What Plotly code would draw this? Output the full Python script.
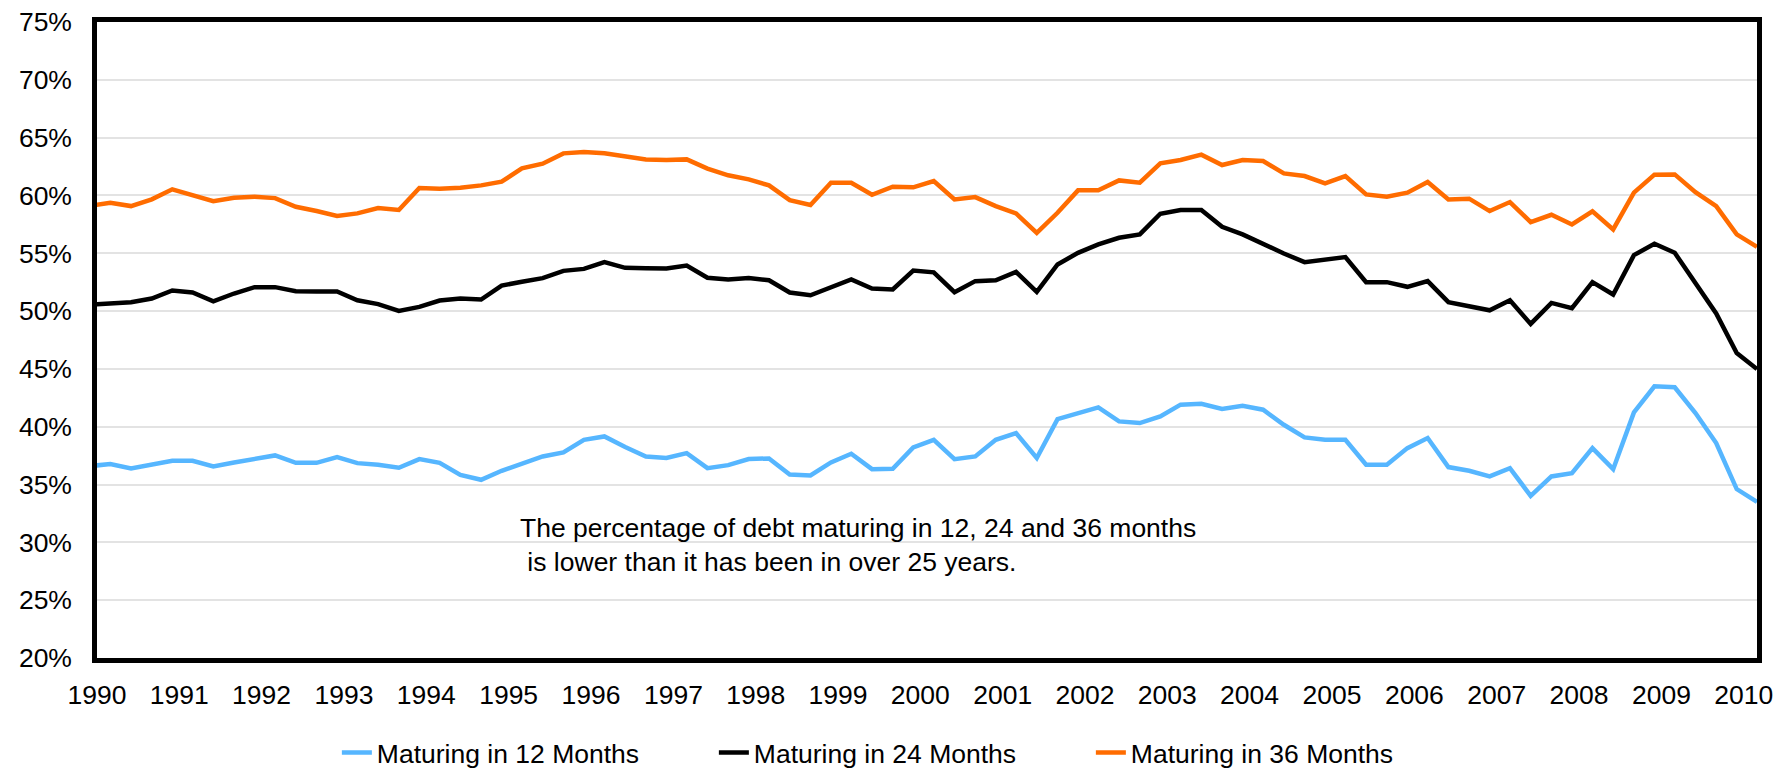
import pandas as pd
import plotly.graph_objects as go

# Quarterly observations (first point is the one just before the axis start)
quarter_start = "1989-12-01"
n_quarters = 82

maturing_12 = [36.6, 36.77, 36.39, 36.71, 37.06, 37.06, 36.56, 36.91, 37.17, 37.52,
               36.88, 36.88, 37.37, 36.85, 36.71, 36.45, 37.20, 36.88, 35.84, 35.41,
               36.19, 36.85, 37.43, 37.78, 38.87, 39.16, 38.24, 37.43, 37.29, 37.72,
               36.42, 36.68, 37.20, 37.26, 35.87, 35.79, 36.91, 37.66, 36.33, 36.36,
               38.21, 38.87, 37.20, 37.43, 38.87, 39.45, 37.29, 40.66, 41.18, 41.67,
               40.46, 40.32, 40.89, 41.91, 41.99, 41.53, 41.82, 41.47, 40.17, 39.08,
               38.87, 38.87, 36.71, 36.71, 38.15, 39.02, 36.51, 36.19, 35.70, 36.42,
               34.02, 35.70, 35.99, 38.15, 36.33, 41.24, 43.49, 43.41, 41.18, 38.59,
               34.61, 33.5]

maturing_24 = [50.55, 50.65, 50.77, 51.09, 51.78, 51.61, 50.85, 51.52, 52.07, 52.07,
               51.72, 51.69, 51.69, 50.94, 50.6, 50.02, 50.36, 50.91, 51.09, 51.00,
               52.21, 52.53, 52.85, 53.48, 53.65, 54.23, 53.74, 53.71, 53.68, 53.94,
               52.88, 52.73, 52.85, 52.67, 51.61, 51.37, 52.10, 52.73, 51.95, 51.87,
               53.51, 53.35, 51.63, 52.59, 52.67, 53.39, 51.66, 54.03, 55.04, 55.76,
               56.34, 56.63, 58.42, 58.74, 58.74, 57.29, 56.63, 55.76, 54.98, 54.23,
               54.46, 54.67, 52.50, 52.50, 52.10, 52.59, 50.77, 50.42, 50.07, 50.94,
               48.89, 50.71, 50.25, 52.50, 51.43, 54.84, 55.82, 55.04, 52.44, 49.79,
               46.38, 44.99]

maturing_36 = [59.1, 59.37, 59.08, 59.66, 60.53, 60.06, 59.51, 59.80, 59.89, 59.77,
               59.02, 58.65, 58.22, 58.45, 58.91, 58.74, 60.64, 60.58, 60.67, 60.87,
               61.19, 62.34, 62.75, 63.64, 63.76, 63.64, 63.35, 63.12, 63.07, 63.12,
               62.32, 61.74, 61.39, 60.87, 59.60, 59.17, 61.10, 61.10, 60.06, 60.76,
               60.70, 61.25, 59.66, 59.86, 59.08, 58.45, 56.77, 58.50, 60.44, 60.44,
               61.30, 61.10, 62.78, 63.07, 63.53, 62.63, 63.07, 62.98, 61.91, 61.68,
               61.04, 61.68, 60.09, 59.89, 60.24, 61.16, 59.66, 59.72, 58.65, 59.43,
               57.70, 58.33, 57.49, 58.62, 57.06, 60.24, 61.80, 61.82, 60.29, 59.08,
               56.63, 55.56]

series_names = ["Maturing in 12 Months", "Maturing in 24 Months", "Maturing in 36 Months"]
series_colors = ["#56B6FF", "#000000", "#FF6C00"]

year_ticks = [str(y) for y in range(1990, 2011)]
pct_ticks = list(range(20, 80, 5))

annotation_text = ("The percentage of debt maturing in 12, 24 and 36 months<br>"
                   "\u00a0is lower than it has been in over 25 years.")

dates = pd.date_range(quarter_start, periods=n_quarters, freq="3MS")

FONT = "Liberation Sans, Arial, sans-serif"
FS = 26.5

fig = go.Figure()
for name, vals, col in zip(series_names, [maturing_12, maturing_24, maturing_36], series_colors):
    fig.add_trace(go.Scatter(x=dates, y=vals, mode="lines", name=name,
                             line=dict(color=col, width=4.5)))

fig.update_layout(
    width=1777, height=772,
    margin=dict(l=97, r=20, t=22, b=114, autoexpand=False),
    paper_bgcolor="white", plot_bgcolor="white",
    font=dict(family=FONT, size=FS, color="black"),
    showlegend=True,
    legend=dict(orientation="h", x=0.1445, xanchor="left", y=-0.149, yanchor="middle",
                entrywidth=332, entrywidthmode="pixels",
                font=dict(family=FONT, size=FS, color="black"),
                bgcolor="rgba(0,0,0,0)"),
    annotations=[dict(text=annotation_text, xref="paper", yref="paper",
                      x=(518 - 97) / 1660, y=(658 - 545.4) / 636,
                      xanchor="left", yanchor="middle", align="left", showarrow=False,
                      font=dict(family=FONT, size=FS, color="black"))],
)

fig.update_xaxes(
    range=["1990-01-01", "2010-03-01"],
    tickmode="array",
    tickvals=[f"{y}-01-01" for y in year_ticks],
    ticktext=year_ticks,
    showgrid=False, zeroline=False,
    showline=True, linecolor="black", linewidth=4.5, mirror=True,
    ticks="", ticklabelstandoff=9,
    tickfont=dict(family=FONT, size=FS, color="black"),
)
fig.update_yaxes(
    range=[20, 75],
    tickmode="array",
    tickvals=pct_ticks,
    ticktext=[f"{v}%" for v in pct_ticks],
    showgrid=True, gridcolor="#e3e3e3", gridwidth=1.5,
    zeroline=False,
    showline=True, linecolor="black", linewidth=4.5, mirror=True,
    ticks="", ticklabelstandoff=15,
    tickfont=dict(family=FONT, size=FS, color="black"),
)

fig.write_html("out.html", config={"displayModeBar": False},
               post_script="document.body.style.margin='0';document.body.style.padding='0';")
